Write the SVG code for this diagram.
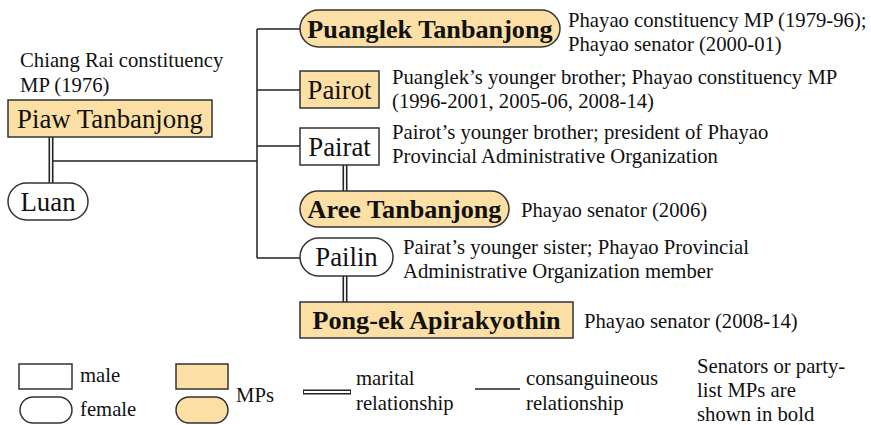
<svg xmlns="http://www.w3.org/2000/svg" width="871" height="425" viewBox="0 0 871 425" font-family="'Liberation Serif', Tinos, 'DejaVu Serif', serif">
  <style>
    text { font-family: "Liberation Serif", Tinos, "DejaVu Serif", serif; fill: #111; }
    .name { font-size: 26.8px; text-anchor: middle; }
    .bold { font-weight: bold; font-size: 26.2px; }
    .note { font-size: 20.7px; }
    .mp { fill: #FBDFA5; stroke: #333; stroke-width: 1.5; }
    .plain { fill: #fff; stroke: #333; stroke-width: 1.5; }
    .blood { fill: none; stroke: #222; stroke-width: 1.5; }
    .wedOuter { fill: none; stroke: #222; stroke-width: 5; }
    .wedInner { fill: none; stroke: #fff; stroke-width: 1.8; }
  </style>

  <!-- connectors -->
  <g id="connectors">
    <path class="blood" d="M51 161 H257 M257 29 V258 M257 29 H300 M257 90 H300 M257 146 H300 M257 258 H300"/>
    <path class="wedOuter" d="M51 137 V183 M345 165 V191 M345 276 V302"/>
    <path class="wedInner" d="M51 136 V184 M345 164 V192 M345 275 V303"/>
  </g>

  <g id="piaw">
    <text class="note" x="20" y="67">Chiang Rai constituency</text>
    <text class="note" x="20" y="92">MP (1976)</text>
    <rect class="mp" x="8" y="100" width="204" height="37"/>
    <text class="name" x="110" y="128">Piaw Tanbanjong</text>
  </g>

  <g id="luan">
    <rect class="plain" x="8" y="183" width="80" height="37" rx="18.5"/>
    <text class="name" x="48" y="211">Luan</text>
  </g>

  <g id="puanglek">
    <rect class="mp" x="300" y="10" width="260" height="37" rx="18.5"/>
    <text class="name bold" x="430" y="38">Puanglek Tanbanjong</text>
    <text class="note" x="568" y="27">Phayao constituency MP (1979-96);</text>
    <text class="note" x="568" y="51">Phayao senator (2000-01)</text>
  </g>

  <g id="pairot">
    <rect class="mp" x="300" y="71" width="79" height="37"/>
    <text class="name" x="339.5" y="99">Pairot</text>
    <text class="note" x="392" y="84">Puanglek’s younger brother; Phayao constituency MP</text>
    <text class="note" x="392" y="108">(1996-2001, 2005-06, 2008-14)</text>
  </g>

  <g id="pairat">
    <rect class="plain" x="300" y="128" width="79" height="37"/>
    <text class="name" x="339.5" y="156">Pairat</text>
    <text class="note" x="392" y="139">Pairot’s younger brother; president of Phayao</text>
    <text class="note" x="392" y="163">Provincial Administrative Organization</text>
  </g>

  <g id="aree">
    <rect class="mp" x="300" y="191" width="209" height="36" rx="18"/>
    <text class="name bold" x="404.5" y="218">Aree Tanbanjong</text>
    <text class="note" x="521" y="217">Phayao senator (2006)</text>
  </g>

  <g id="pailin">
    <rect class="plain" x="300" y="238" width="93" height="38" rx="19"/>
    <text class="name" x="346.5" y="266">Pailin</text>
    <text class="note" x="403" y="254">Pairat’s younger sister; Phayao Provincial</text>
    <text class="note" x="403" y="278">Administrative Organization member</text>
  </g>

  <g id="pongek">
    <rect class="mp" x="300" y="302" width="273" height="36"/>
    <text class="name bold" x="436.5" y="329">Pong-ek Apirakyothin</text>
    <text class="note" x="584" y="328">Phayao senator (2008-14)</text>
  </g>

  <!-- legend -->
  <g id="legend">
    <rect class="plain" x="19" y="364" width="53" height="25"/>
    <text class="note" x="80" y="382">male</text>
    <rect class="plain" x="20" y="397" width="52" height="26" rx="13"/>
    <text class="note" x="80" y="416">female</text>
    <rect class="mp" x="176" y="364" width="52" height="25"/>
    <rect class="mp" x="176" y="397" width="52" height="26" rx="13"/>
    <text class="note" x="236" y="402">MPs</text>
    <path class="wedOuter" d="M303 392 H351"/>
    <path class="wedInner" d="M304 392 H350"/>
    <text class="note" x="356" y="385">marital</text>
    <text class="note" x="356" y="410">relationship</text>
    <path class="blood" d="M475 389 H520"/>
    <text class="note" x="526" y="385">consanguineous</text>
    <text class="note" x="526" y="410">relationship</text>
    <text class="note" x="697" y="373">Senators or party-</text>
    <text class="note" x="697" y="397">list MPs are</text>
    <text class="note" x="697" y="421">shown in bold</text>
  </g>
</svg>
